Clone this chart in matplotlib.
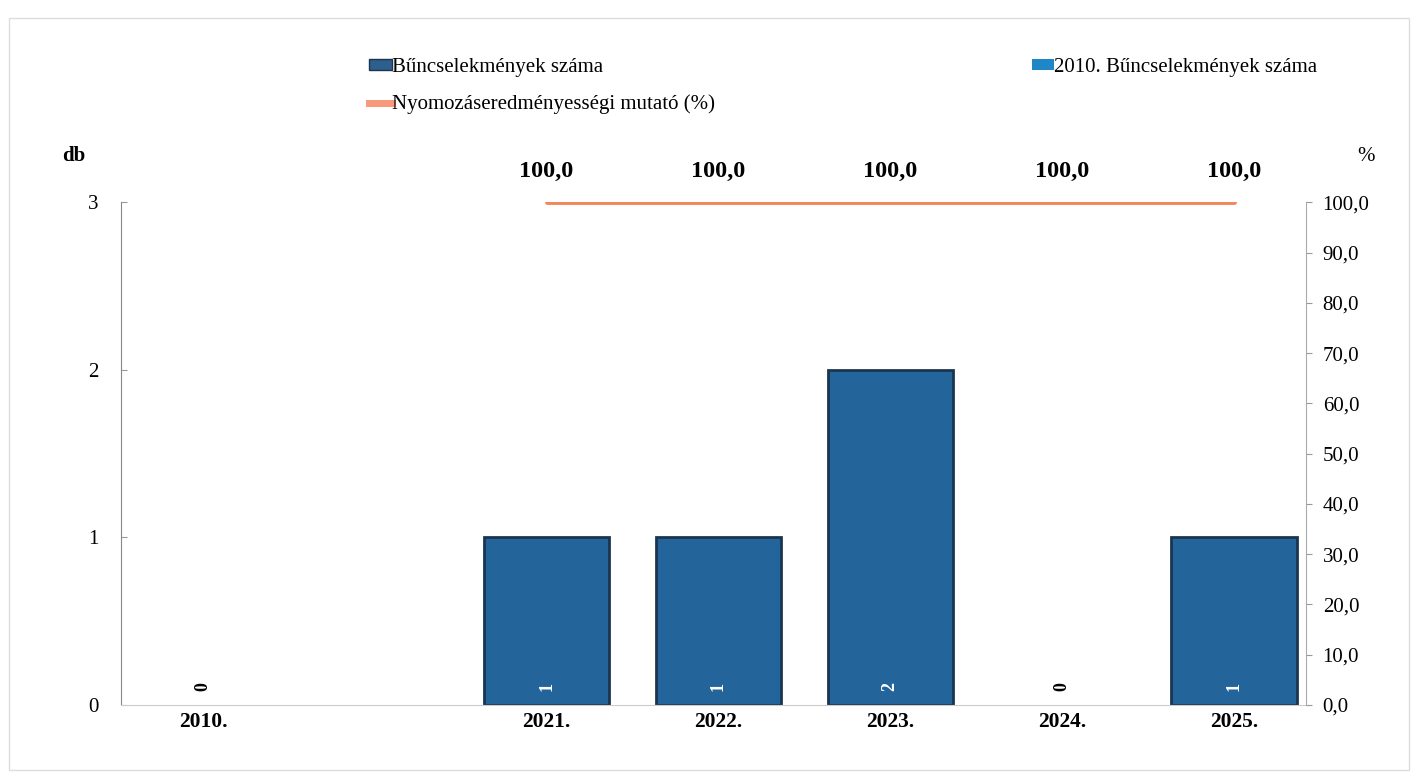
import matplotlib.pyplot as plt
from matplotlib.patches import Rectangle
from matplotlib.lines import Line2D

plt.rcParams['font.family'] = ['Liberation Serif', 'DejaVu Serif']

# data
categories = ["2010.", "", "2021.", "2022.", "2023.", "2024.", "2025."]
crimes = [None, None, 1, 1, 2, 0, 1]
crimes_2010 = [0, None, None, None, None, None, None]
rate = [None, None, 100.0, 100.0, 100.0, 100.0, 100.0]

bar_color = '#23649a'
bar_edge = '#1b3550'
bar2010_color = '#1f86c8'
line_color = '#f3875a'

fig = plt.figure(figsize=(14.18, 7.78), dpi=100)
ax = fig.add_axes([0.085, 0.094, 0.836, 0.646])

xs = list(range(len(categories)))
bx = [x for x, v in zip(xs, crimes) if v is not None]
bv = [v for v in crimes if v is not None]
ax.bar(bx, bv, width=0.73, color=bar_color, edgecolor=bar_edge,
       linewidth=[2 if v > 0 else 0 for v in bv])
x10 = [x for x, v in zip(xs, crimes_2010) if v is not None]
v10 = [v for v in crimes_2010 if v is not None]
ax.bar(x10, v10, width=0.73, color=bar2010_color, linewidth=0)

# value labels inside the bars
for x, v in list(zip(bx, bv)) + list(zip(x10, v10)):
    col = 'white' if v > 0 else 'black'
    ax.text(x, 0.11, str(v), rotation=90, ha='center', va='center',
            fontsize=13, fontweight='bold', color=col)

ax.set_xlim(-0.48, 6.42)
ax.set_ylim(0, 3)
ax.set_yticks([0, 1, 2, 3])
ax.set_xticks(xs)
ax.set_xticklabels(categories, fontsize=15.5, fontweight='bold')
ax.tick_params(axis='x', length=0, pad=5)
ax.tick_params(axis='y', labelsize=15, length=4, direction='in', pad=16,
               color='#999999')
for s in ['top', 'right']:
    ax.spines[s].set_visible(False)
ax.spines['left'].set_color('#888888')
ax.spines['bottom'].set_color('#cccccc')

ax2 = ax.twinx()
lx = [x for x, v in zip(xs, rate) if v is not None]
lv = [v for v in rate if v is not None]
ax2.plot(lx, lv, color=line_color, lw=3.5, solid_capstyle='round')
for x, v in zip(lx, lv):
    ax2.text(x, v + 4.0, f"{v:.1f}".replace('.', ','), ha='center', va='bottom',
             fontsize=17.5, fontweight='bold')
ax2.set_ylim(0, 100)
ax2.set_yticks(range(0, 101, 10))
ax2.set_yticklabels([f"{t:.1f}".replace('.', ',') for t in range(0, 101, 10)])
ax2.tick_params(axis='y', labelsize=15, length=4, color='#999999', pad=8)
for s in ['top', 'left', 'bottom']:
    ax2.spines[s].set_visible(False)
ax2.spines['right'].set_color('#aaaaaa')

fig.text(0.044, 0.793, "db", fontsize=15, fontweight='bold')
fig.text(0.957, 0.793, "%", fontsize=15)

handles = [
    Rectangle((0, 0), 1, 1, facecolor='#2c5f8c', edgecolor='#1b3550'),
    Line2D([0], [0], color='#f7997a', lw=5),
    Rectangle((0, 0), 1, 1, facecolor=bar2010_color),
]
labels = ["Bűncselekmények száma", "Nyomozáseredményességi mutató (%)",
          "2010. Bűncselekmények száma"]
fig.legend(handles, labels, loc='upper left', bbox_to_anchor=(0.247, 0.95),
           ncol=2, frameon=False, fontsize=15, handlelength=1.1,
           handleheight=0.45, handletextpad=0.0, columnspacing=15.2,
           labelspacing=0.85)

# faint outer frame
fig.patches.append(Rectangle((0.006, 0.01), 0.988, 0.967, transform=fig.transFigure,
                             fill=False, edgecolor='#dddddd', lw=1))

fig.savefig('out.png', dpi=100)
